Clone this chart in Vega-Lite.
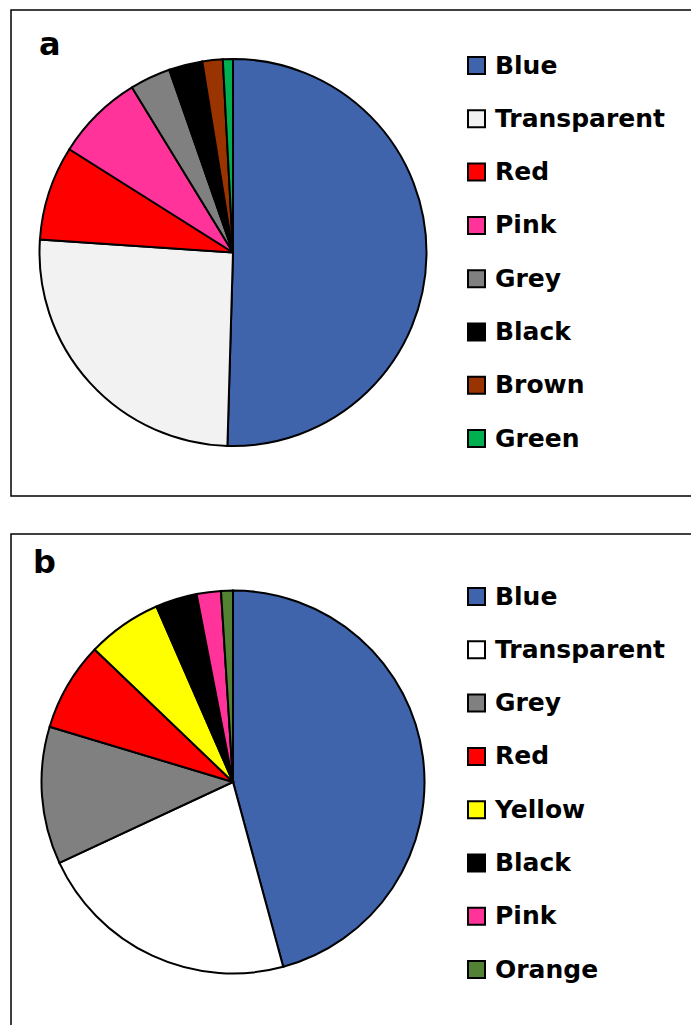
{
  "$schema": "https://vega.github.io/schema/vega-lite/v6.json",
  "padding": {"left": 10, "top": 9, "right": 0, "bottom": 0},
  "spacing": 36,
  "config": {
    "view": {"stroke": "black", "strokeWidth": 1.2},
    "font": "DejaVu Sans",
    "legend": {
      "orient": "none",
      "title": null,
      "symbolType": "square",
      "symbolSize": 289,
      "symbolStrokeColor": "black",
      "symbolStrokeWidth": 2,
      "symbolOpacity": 1,
      "labelFont": "DejaVu Sans",
      "labelFontWeight": "bold",
      "labelFontSize": 25,
      "labelColor": "black",
      "labelLimit": 400,
      "rowPadding": 27.3,
      "labelOffset": 6,
      "padding": 0
    },
    "title": {"font": "DejaVu Sans", "fontWeight": "bold", "fontSize": 32, "color": "black", "anchor": "start", "frame": "group", "baseline": "alphabetic"}
  },
  "resolve": {"scale": {"color": "independent", "theta": "independent"}},
  "vconcat": [
    {
      "width": 681,
      "height": 486,
      "title": {"text": "a", "offset": -53, "dx": 28},
      "layer": [
        {
          "data": {"values": [
            {"colour": "Blue", "rank": 1, "pct": 50.46},
            {"colour": "Transparent", "rank": 2, "pct": 25.6},
            {"colour": "Red", "rank": 3, "pct": 7.9},
            {"colour": "Pink", "rank": 4, "pct": 7.3},
            {"colour": "Grey", "rank": 5, "pct": 3.4},
            {"colour": "Black", "rank": 6, "pct": 2.8},
            {"colour": "Brown", "rank": 7, "pct": 1.7},
            {"colour": "Green", "rank": 8, "pct": 0.84}
          ]},
          "mark": {"type": "arc", "outerRadius": 193.5, "x": 222, "y": 242.5, "stroke": "black", "strokeWidth": 2},
          "encoding": {
            "theta": {"field": "pct", "type": "quantitative", "stack": true},
            "order": {"field": "rank", "type": "quantitative"},
            "color": {
              "field": "colour", "type": "nominal",
              "scale": {
                "domain": ["Blue", "Transparent", "Red", "Pink", "Grey", "Black", "Brown", "Green"],
                "range": ["#3F64AC", "#F2F2F2", "#FF0000", "#FF3399", "#808080", "#000000", "#993300", "#00B050"]
              },
              "legend": {"legendX": 453, "legendY": 43}
            }
          }
        },
        {
          "data": {"values": [{"frame": "a"}]},
          "mark": {"type": "rect", "x": 0, "y": 0, "x2": "width", "y2": "height", "fill": null, "stroke": "black", "strokeWidth": 1.5},
          "encoding": {}
        }
      ]
    },
    {
      "width": 681,
      "height": 495,
      "title": {"text": "b", "offset": -47, "dx": 22},
      "layer": [
        {
          "data": {"values": [
            {"colour": "Blue", "rank": 1, "pct": 45.8},
            {"colour": "Transparent", "rank": 2, "pct": 22.3},
            {"colour": "Grey", "rank": 3, "pct": 11.6},
            {"colour": "Red", "rank": 4, "pct": 7.5},
            {"colour": "Yellow", "rank": 5, "pct": 6.3},
            {"colour": "Black", "rank": 6, "pct": 3.5},
            {"colour": "Pink", "rank": 7, "pct": 2.05},
            {"colour": "Orange", "rank": 8, "pct": 1.0}
          ]},
          "mark": {"type": "arc", "outerRadius": 191.5, "x": 222, "y": 248, "stroke": "black", "strokeWidth": 2},
          "encoding": {
            "theta": {"field": "pct", "type": "quantitative", "stack": true},
            "order": {"field": "rank", "type": "quantitative"},
            "color": {
              "field": "colour", "type": "nominal",
              "scale": {
                "domain": ["Blue", "Transparent", "Grey", "Red", "Yellow", "Black", "Pink", "Orange"],
                "range": ["#3F64AC", "#FFFFFF", "#808080", "#FF0000", "#FFFF00", "#000000", "#FF3399", "#548235"]
              },
              "legend": {"legendX": 453, "legendY": 50}
            }
          }
        },
        {
          "data": {"values": [{"frame": "b"}]},
          "mark": {"type": "rect", "x": 0, "y": 0, "x2": "width", "y2": "height", "fill": null, "stroke": "black", "strokeWidth": 1.5},
          "encoding": {}
        }
      ]
    }
  ]
}
